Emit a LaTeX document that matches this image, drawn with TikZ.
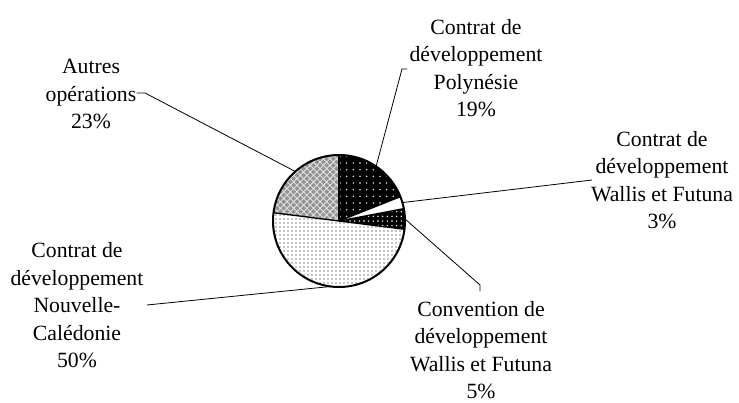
\documentclass[tikz,border=0pt]{standalone}
\usepackage{fontspec}
\setmainfont{Liberation Serif}
\usetikzlibrary{patterns.meta}
\begin{document}
\begin{tikzpicture}[x=0.75pt,y=-0.75pt,
  lbl/.style={align=center,font=\fontsize{16.3}{20.6}\selectfont,inner sep=0pt},
  leader/.style={line width=0.6pt},
  sep/.style={line width=1pt},
  rim/.style={line width=1.5pt}]
\useasboundingbox (0,0) rectangle (739,403);
\def\R{49.5pt}
\newcommand{\slicepath}[2]{(c) -- ++(#1:\R) arc[start angle=#1,end angle=#2,radius=\R] -- cycle}
\coordinate (c) at (339,221);
% slices
\fill[black] \slicepath{90}{21.6};
\fill[pattern={Dots[radius=0.6pt,distance=5pt]},pattern color=white] \slicepath{90}{21.6};
\fill[white] \slicepath{21.6}{10.8};
\fill[black] \slicepath{10.8}{-7.2};
\fill[pattern={Dots[radius=0.6pt,distance=3.5pt]},pattern color=white] \slicepath{10.8}{-7.2};
\fill[white] \slicepath{-7.2}{-187.2};
\fill[pattern={Dots[radius=0.45pt,distance=3pt]},pattern color=black] \slicepath{-7.2}{-187.2};
\fill[gray!85] \slicepath{-187.2}{-270};
\fill[pattern={Hatch[angle=45,distance=3.5pt,line width=0.7pt]},pattern color=white!75!gray] \slicepath{-187.2}{-270};
\foreach \a in {90,21.6,10.8,-7.2,-187.2} \draw[sep] (c) -- ++(\a:\R);
\draw[rim] (c) circle[radius=\R];
% pie anchor points
\coordinate (pPol) at ([shift={(55.8:\R)}]c);
\coordinate (pWC) at ([shift={(16.2:\R)}]c);
\coordinate (pConv) at ([shift={(1.8:\R)}]c);
\coordinate (pNC) at ([shift={(-97.2:\R)}]c);
\coordinate (pAut) at ([shift={(131.4:\R)}]c);
% labels
\node[lbl] (lAut) at (91,94) {Autres\\opérations\\23\%};
\node[lbl] (lPol) at (476,68) {Contrat de\\développement\\Polynésie\\19\%};
\node[lbl] (lWC) at (662,180) {Contrat de\\développement\\Wallis et Futuna\\3\%};
\node[lbl] (lConv) at (481,350) {Convention de\\développement\\Wallis et Futuna\\5\%};
\node[lbl] (lNC) at (77,305.5) {Contrat de\\développement\\Nouvelle-\\Calédonie\\50\%};
% leader bends
\coordinate (kAut) at (145,93);
\coordinate (kPol) at (402,69);
\coordinate (kConv) at (480,285);
% leaders
\draw[leader] (lAut.east |- kAut) -- (kAut) -- (pAut);
\draw[leader] (pPol) -- (kPol) -- (407,69);
\draw[leader] (pWC) -- (592,180);
\draw[leader] (pConv) -- (kConv) -- (480,291);
\draw[leader] (pNC) -- (147,305);
\end{tikzpicture}
\end{document}
